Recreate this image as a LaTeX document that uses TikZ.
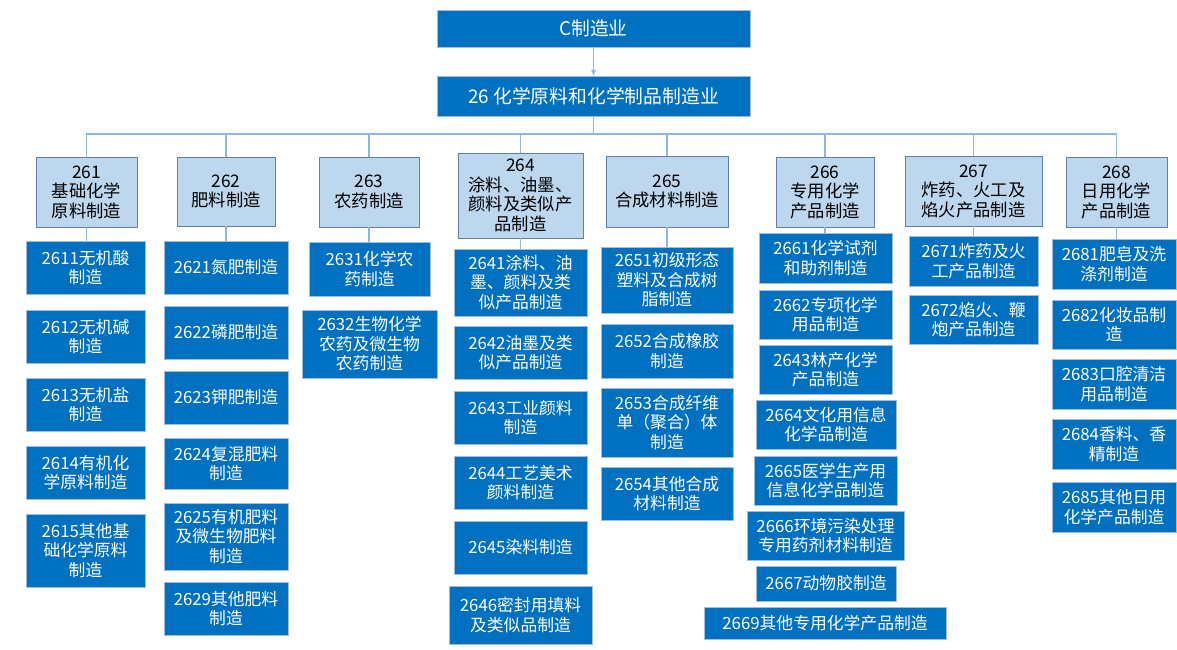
\documentclass[tikz,border=0pt]{standalone}
\usepackage{fontspec}
\newfontfamily\cjk{Noto Sans CJK SC}
\usetikzlibrary{arrows.meta}
\definecolor{darkfill}{HTML}{0070C0}
\definecolor{darkborder}{HTML}{A3BCD9}
\definecolor{catfill}{HTML}{BDD7EE}
\definecolor{catborder}{HTML}{5F83AD}
\definecolor{connc}{HTML}{8DB6E2}
\tikzset{
  dark/.style={draw=darkborder, fill=darkfill, text=white, line width=0.8pt, inner sep=0pt, outer sep=0pt, align=center, font=\cjk\fontsize{16.8}{19.5}\selectfont},
  topbox/.style={dark, font=\cjk\fontsize{18.8}{21}\selectfont},
  cat/.style={draw=catborder, fill=catfill, text=black, line width=1pt, inner sep=0pt, outer sep=0pt, align=center, font=\cjk\fontsize{17.3}{19.5}\selectfont},
  conn/.style={draw=connc, line width=1.4pt},
}
\newcommand{\bx}[7]{\node[#7, minimum width={(#3-#2)*1pt}, minimum height={(#5-#4)*1pt}] (#1) at ({(#2+#3)/2},{(#4+#5)/2}) {#6};}
\begin{document}
\begin{tikzpicture}[x=1pt,y=-1pt]
\useasboundingbox (0,0) rectangle (1177,650);
% top
\bx{tC}{437}{750}{10}{47}{C制造业}{topbox}
\bx{t26}{437}{750}{76}{116}{26 化学原料和化学制品制造业}{topbox}
\draw[draw=connc, line width=1pt, -{Latex[length=6pt,width=5pt]}] (tC.south) -- (t26.north);
% categories
\bx{c261}{36}{137}{157}{227}{261\\基础化学\\原料制造}{cat}
\bx{c262}{177}{275}{157}{226}{262\\肥料制造}{cat}
\bx{c263}{319}{419}{157}{227}{263\\农药制造}{cat}
\bx{c264}{458}{583}{153}{238}{264\\涂料、油墨、\\颜料及类似产\\品制造}{cat}
\bx{c265}{606}{728}{156}{227}{265\\合成材料制造}{cat}
\bx{c266}{776}{874}{157}{227}{266\\专用化学\\产品制造}{cat}
\bx{c267}{905}{1042}{156}{226}{267\\炸药、火工及\\焰火产品制造}{cat}
\bx{c268}{1066}{1167}{157}{227}{268\\日用化学\\产品制造}{cat}
% bus
\coordinate (busL) at (86,134);
\coordinate (busR) at (1117,134);
\draw[conn] (t26.south) -- (t26.south |- busL);
\draw[conn] (busL) -- (busR);
\foreach \c in {c261,c262,c263,c264,c265,c266,c267,c268}{
  \draw[conn] (\c.north) -- (\c.north |- busL);
}
% column 261
\bx{n2611}{26}{145}{241}{294}{2611无机酸\\制造}{dark}
\bx{n2612}{26}{145}{310}{363}{2612无机碱\\制造}{dark}
\bx{n2613}{26}{145}{378}{431}{2613无机盐\\制造}{dark}
\bx{n2614}{26}{145}{446}{499}{2614有机化\\学原料制造}{dark}
\bx{n2615}{26}{145}{514}{587}{2615其他基\\础化学原料\\制造}{dark}
% column 262
\bx{n2621}{164}{288}{241}{294}{2621氮肥制造}{dark}
\bx{n2622}{164}{288}{306}{359}{2622磷肥制造}{dark}
\bx{n2623}{164}{288}{371}{424}{2623钾肥制造}{dark}
\bx{n2624}{164}{288}{438}{489}{2624复混肥料\\制造}{dark}
\bx{n2625}{164}{288}{503}{570}{2625有机肥料\\及微生物肥料\\制造}{dark}
\bx{n2629}{164}{288}{582}{635}{2629其他肥料\\制造}{dark}
% column 263
\bx{n2631}{309}{430}{242}{296}{2631化学农\\药制造}{dark}
\bx{n2632}{302}{437}{310}{378}{2632生物化学\\农药及微生物\\农药制造}{dark}
% column 264
\bx{n2641}{454}{587}{249}{316}{2641涂料、油\\墨、颜料及类\\似产品制造}{dark}
\bx{n2642}{454}{587}{326}{379}{2642油墨及类\\似产品制造}{dark}
\bx{n2643}{454}{587}{391}{444}{2643工业颜料\\制造}{dark}
\bx{n2644}{454}{587}{456}{509}{2644工艺美术\\颜料制造}{dark}
\bx{n2645}{454}{587}{521}{574}{2645染料制造}{dark}
\bx{n2646}{449}{592}{586}{644}{2646密封用填料\\及类似品制造}{dark}
% column 265
\bx{n2651}{601}{733}{247}{313}{2651初级形态\\塑料及合成树\\脂制造}{dark}
\bx{n2652}{601}{733}{324}{378}{2652合成橡胶\\制造}{dark}
\bx{n2653}{601}{733}{388}{457}{2653合成纤维\\单（聚合）体\\制造}{dark}
\bx{n2654}{601}{733}{467}{520}{2654其他合成\\材料制造}{dark}
% column 266
\bx{n2661}{759}{892}{233}{283}{2661化学试剂\\和助剂制造}{dark}
\bx{n2662}{759}{892}{290}{339}{2662专项化学\\用品制造}{dark}
\bx{n2663}{759}{892}{345}{394}{2643林产化学\\产品制造}{dark}
\bx{n2664}{756}{896}{400}{449}{2664文化用信息\\化学品制造}{dark}
\bx{n2665}{754}{897}{456}{505}{2665医学生产用\\信息化学品制造}{dark}
\bx{n2666}{747}{904}{511}{560}{2666环境污染处理\\专用药剂材料制造}{dark}
\bx{n2667}{756}{896}{566}{601}{2667动物胶制造}{dark}
\bx{n2669}{704}{946}{607}{639}{2669其他专用化学产品制造}{dark}
% column 267
\bx{n2671}{909}{1038}{236}{286}{2671炸药及火\\工产品制造}{dark}
\bx{n2672}{909}{1038}{295}{344}{2672焰火、鞭\\炮产品制造}{dark}
% column 268
\bx{n2681}{1052}{1176}{239}{289}{2681肥皂及洗\\涤剂制造}{dark}
\bx{n2682}{1052}{1176}{300}{349}{2682化妆品制\\造}{dark}
\bx{n2683}{1052}{1176}{359}{409}{2683口腔清洁\\用品制造}{dark}
\bx{n2684}{1052}{1176}{419}{469}{2684香料、香\\精制造}{dark}
\bx{n2685}{1052}{1176}{482}{532}{2685其他日用\\化学产品制造}{dark}
% category to first child
\draw[conn] (c261.south) -- (c261.south |- n2611.north);
\draw[conn] (c262.south) -- (c262.south |- n2621.north);
\draw[conn] (c263.south) -- (c263.south |- n2631.north);
\draw[conn] (c264.south) -- (c264.south |- n2641.north);
\draw[conn] (c265.south) -- (c265.south |- n2651.north);
\draw[conn] (c266.south) -- (c266.south |- n2661.north);
\draw[conn] (c267.south) -- (c267.south |- n2671.north);
\draw[conn] (c268.south) -- (c268.south |- n2681.north);
\end{tikzpicture}
\end{document}
